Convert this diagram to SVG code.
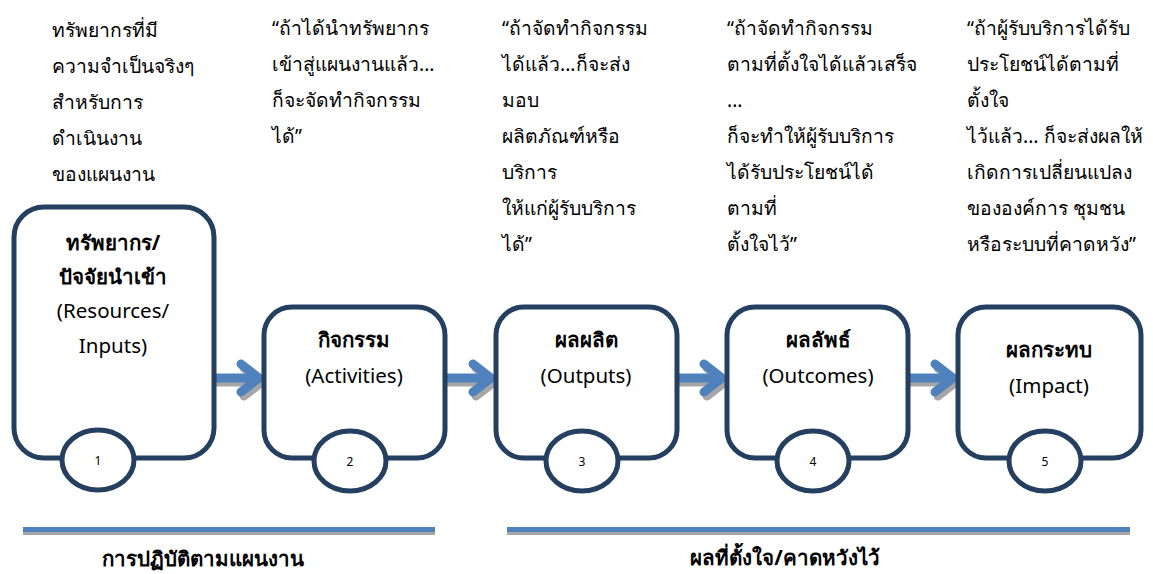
<svg xmlns="http://www.w3.org/2000/svg" width="1153" height="574" viewBox="0 0 1153 574">
<style>
text{font-family:"Noto Sans","Open Sans","Liberation Sans",sans-serif;fill:#000}
.note{font-size:19.3px}
.title{font-size:20.5px;font-weight:bold;text-anchor:middle}
.sub{font-size:20.5px;text-anchor:middle}
.num{font-size:12px;text-anchor:middle}
.box{fill:#fff;stroke:#243F60;stroke-width:5}
.arr{fill:none;stroke:#4F81BD;stroke-width:9;stroke-linecap:round;stroke-linejoin:round}
.arrs{fill:none;stroke:#A6A6A6;stroke-width:9;stroke-linecap:round;stroke-linejoin:round}
.foot{font-size:20.5px;font-weight:bold;text-anchor:middle}
</style>
<rect width="1153" height="574" fill="#fff"/>

<g id="notes" class="note">
<text x="52" y="37">ทรัพยากรที่มี</text>
<text x="52" y="73">ความจำเป็นจริงๆ</text>
<text x="52" y="109">สำหรับการ</text>
<text x="52" y="145">ดำเนินงาน</text>
<text x="52" y="181">ของแผนงาน</text>

<text x="272" y="35">“ถ้าได้นำทรัพยากร</text>
<text x="272" y="71">เข้าสู่แผนงานแล้ว...</text>
<text x="272" y="107">ก็จะจัดทำกิจกรรม</text>
<text x="272" y="143">ได้”</text>

<text x="502" y="35">“ถ้าจัดทำกิจกรรม</text>
<text x="502" y="71">ได้แล้ว...ก็จะส่ง</text>
<text x="502" y="107">มอบ</text>
<text x="502" y="143">ผลิตภัณฑ์หรือ</text>
<text x="502" y="179">บริการ</text>
<text x="502" y="215">ให้แก่ผู้รับบริการ</text>
<text x="502" y="251">ได้”</text>

<text x="727" y="35">“ถ้าจัดทำกิจกรรม</text>
<text x="727" y="71">ตามที่ตั้งใจได้แล้วเสร็จ</text>
<text x="727" y="107">...</text>
<text x="727" y="143">ก็จะทำให้ผู้รับบริการ</text>
<text x="727" y="179">ได้รับประโยชน์ได้</text>
<text x="727" y="215">ตามที่</text>
<text x="727" y="251">ตั้งใจไว้”</text>

<text x="967" y="35">“ถ้าผู้รับบริการได้รับ</text>
<text x="967" y="71">ประโยชน์ได้ตามที่</text>
<text x="967" y="107">ตั้งใจ</text>
<text x="967" y="143">ไว้แล้ว... ก็จะส่งผลให้</text>
<text x="967" y="179">เกิดการเปลี่ยนแปลง</text>
<text x="967" y="215">ขององค์การ ชุมชน</text>
<text x="967" y="251">หรือระบบที่คาดหวัง”</text>
</g>

<g id="connectors">
<g transform="translate(3,4)">
<path class="arrs" d="M214 378H256M241 364L259 378L241 392"/>
<path class="arrs" d="M445 378H488M473 364L491 378L473 392"/>
<path class="arrs" d="M677 378H719M704 364L722 378L704 392"/>
<path class="arrs" d="M908 378H950M935 364L953 378L935 392"/>
</g>
<path class="arr" d="M214 378H256M241 364L259 378L241 392"/>
<path class="arr" d="M445 378H488M473 364L491 378L473 392"/>
<path class="arr" d="M677 378H719M704 364L722 378L704 392"/>
<path class="arr" d="M908 378H950M935 364L953 378L935 392"/>
</g>

<g id="node1">
<rect class="box" x="14" y="207" width="200" height="251" rx="30"/>
<ellipse class="box" cx="98" cy="460" rx="36" ry="30"/>
<text class="title" x="113" y="250">ทรัพยากร/</text>
<text class="title" x="113" y="284">ปัจจัยนำเข้า</text>
<text class="sub" x="113" y="318">(Resources/</text>
<text class="sub" x="113" y="353">Inputs)</text>
<text class="num" x="98" y="465">1</text>
</g>

<g id="node2">
<rect class="box" x="264" y="307" width="181" height="151" rx="28"/>
<ellipse class="box" cx="350" cy="461" rx="36" ry="30"/>
<text class="title" x="354" y="347">กิจกรรม</text>
<text class="sub" x="354" y="383">(Activities)</text>
<text class="num" x="350" y="466">2</text>
</g>

<g id="node3">
<rect class="box" x="496" y="307" width="181" height="151" rx="28"/>
<ellipse class="box" cx="582" cy="461" rx="36" ry="30"/>
<text class="title" x="586" y="347">ผลผลิต</text>
<text class="sub" x="586" y="383">(Outputs)</text>
<text class="num" x="582" y="466">3</text>
</g>

<g id="node4">
<rect class="box" x="727" y="307" width="181" height="151" rx="28"/>
<ellipse class="box" cx="813" cy="461" rx="36" ry="30"/>
<text class="title" x="818" y="347">ผลลัพธ์</text>
<text class="sub" x="818" y="383">(Outcomes)</text>
<text class="num" x="813" y="466">4</text>
</g>

<g id="node5">
<rect class="box" x="958" y="307" width="183" height="151" rx="28"/>
<ellipse class="box" cx="1045" cy="461" rx="36" ry="30"/>
<text class="title" x="1049" y="357">ผลกระทบ</text>
<text class="sub" x="1049" y="393">(Impact)</text>
<text class="num" x="1045" y="466">5</text>
</g>

<g id="phases">
<rect x="23" y="531" width="412" height="4" fill="#A6A6A6"/>
<rect x="23" y="527" width="412" height="5" fill="#4F81BD"/>
<rect x="507" y="531" width="623" height="4" fill="#A6A6A6"/>
<rect x="507" y="527" width="623" height="5" fill="#4F81BD"/>
<text class="foot" x="203" y="566">การปฏิบัติตามแผนงาน</text>
<text class="foot" x="785" y="565">ผลที่ตั้งใจ/คาดหวังไว้</text>
</g>
</svg>
